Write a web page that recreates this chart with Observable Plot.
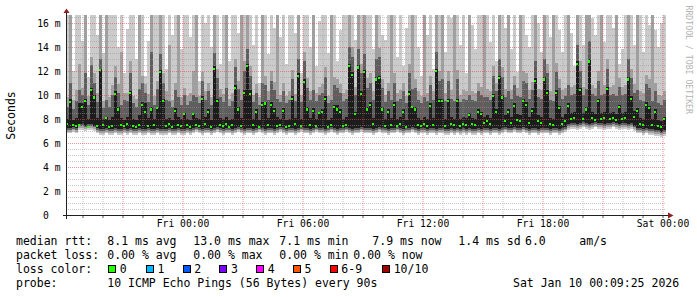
<!DOCTYPE html>
<html><head><meta charset="utf-8">
<script src="https://cdn.jsdelivr.net/npm/d3@7"></script>
<script src="https://cdn.jsdelivr.net/npm/@observablehq/plot@0.6"></script>
<style>
html,body{margin:0;padding:0;background:#fff;}
#wrap{position:relative;width:697px;height:297px;overflow:hidden;font-family:"DejaVu Sans Mono",monospace;background:#fff;}
#wrap svg{position:absolute;left:0;top:0;}
.lg{position:absolute;font-size:11.5px;line-height:14px;white-space:pre;color:#000;}
.sq{position:absolute;width:8px;height:8px;box-sizing:border-box;border:1px solid #000;}
</style></head><body><div id="wrap"></div>
<script>
// ---- data (ms), one entry per time column ----
const medianRtt = [
7.6,9.4,7.5,7.4,7.5,9.0,9.5,7.3,10.4,9.8,7.4,12.1,7.5,8.1,7.3,7.4,10.1,8.8,7.5,7.4,
7.6,10.2,7.4,7.3,7.5,9.2,8.6,7.4,8.8,7.5,8.9,11.9,9.5,7.4,7.6,7.3,8.7,7.5,7.4,8.4,
7.5,7.3,8.4,7.5,7.4,9.7,7.6,8.6,7.3,12.2,9.5,7.5,7.4,7.6,7.3,7.5,10.6,8.8,7.4,10.2,
12.4,10.1,7.5,8.6,7.3,9.2,9.3,7.5,9.2,8.7,7.4,7.5,8.7,7.3,7.4,9.7,7.6,11.6,7.4,11.1,
8.8,7.5,8.7,7.4,8.5,8.6,9.7,7.3,7.5,9.0,8.8,8.6,7.4,7.5,12.4,11.7,8.4,12.3,10.1,11.9,
8.8,9.2,7.6,11.3,11.4,8.8,7.4,8.6,7.5,9.2,7.4,7.6,8.6,7.3,10.1,9.0,8.8,7.5,7.4,7.6,
7.4,9.1,7.5,12.0,9.5,9.5,7.4,9.5,7.6,7.5,9.5,7.4,7.6,7.5,8.3,7.6,7.5,8.6,8.4,7.7,
7.8,7.6,9.9,8.6,11.4,9.8,7.8,8.6,7.7,9.1,7.9,7.8,9.5,9.2,7.7,8.7,11.2,7.8,7.7,11.3,
10.2,7.6,7.5,10.2,8.9,7.6,7.8,9.1,8.0,8.1,12.6,10.4,8.0,8.8,12.8,8.1,7.9,9.5,8.0,8.1,
10.5,8.0,8.1,7.9,9.0,8.0,8.1,11.3,9.7,8.2,8.7,7.6,7.5,9.2,8.9,7.5,8.6,7.4,7.3,8.0];
const smokeLow = [
6.8,6.8,6.9,6.8,7.1,7.1,7.0,7.1,7.1,7.0,6.8,6.7,6.7,6.8,6.7,6.7,6.8,6.7,6.7,6.8,
6.7,6.8,6.7,6.7,6.8,6.7,6.7,6.8,6.7,6.7,6.8,6.7,6.7,6.7,6.8,6.7,6.7,6.8,6.7,6.7,
6.8,6.7,6.8,6.9,6.8,6.7,6.8,6.8,6.7,6.8,6.9,6.8,6.7,6.8,6.8,6.7,6.8,6.9,6.8,6.7,
6.8,6.8,6.7,6.8,6.9,6.8,6.7,6.8,6.8,6.7,6.8,6.9,6.8,6.7,6.8,6.8,6.7,6.8,6.9,6.8,
6.8,6.7,6.8,6.9,6.8,6.8,6.7,6.8,6.9,6.8,6.7,6.8,6.8,6.9,6.8,6.7,6.8,6.8,6.9,6.8,
6.8,6.8,6.7,6.8,6.9,6.8,6.8,6.7,6.8,6.8,6.9,6.8,6.7,6.8,6.8,6.9,6.8,6.7,6.8,6.8,
6.7,6.8,6.8,6.7,6.8,6.8,6.7,6.7,6.8,6.7,6.8,6.7,6.8,6.7,6.8,6.7,6.7,6.8,6.7,6.8,
6.8,6.7,6.8,6.8,6.7,6.8,6.9,6.8,6.8,6.9,6.8,6.8,6.9,6.8,6.7,6.8,6.8,6.7,6.8,6.8,
6.8,6.7,6.8,6.8,6.7,6.8,6.9,7.1,7.2,7.2,7.1,7.2,7.3,7.2,7.1,7.2,7.3,7.2,7.2,7.1,
7.2,7.2,7.3,7.2,7.1,7.2,7.2,7.1,7.2,7.0,6.8,6.8,6.7,6.8,6.7,6.7,6.6,6.6,6.5,6.6];
const smokeBlack = [
8.0,9.7,7.9,8.1,9.3,9.3,9.7,8.0,10.6,10.0,8.1,12.2,8.0,8.2,7.9,8.2,10.3,9.0,8.1,7.9,
8.2,10.3,8.0,7.9,8.3,9.4,9.3,8.1,9.0,8.0,9.0,12.1,9.7,8.0,8.1,7.9,8.9,8.2,8.0,8.5,
8.0,7.9,8.5,8.1,8.0,9.9,8.2,8.8,7.9,12.4,9.7,8.1,8.0,8.2,7.9,8.0,10.8,9.0,8.1,10.4,
12.6,10.4,8.0,8.8,7.9,9.4,9.4,8.1,9.4,8.9,8.2,8.0,8.9,7.9,8.0,9.9,8.1,11.8,8.0,11.3,
9.0,8.1,8.9,8.0,8.6,8.8,9.9,7.9,8.1,9.2,9.2,8.8,8.0,8.2,12.6,11.9,8.6,12.5,10.3,12.1,
9.0,9.4,8.1,11.5,11.6,9.0,8.0,8.8,8.1,9.4,8.0,8.2,8.8,7.9,10.3,9.0,9.0,8.1,7.9,8.2,
8.0,9.3,8.1,12.2,9.7,9.7,8.0,9.7,8.2,8.0,9.7,8.0,8.2,8.1,8.5,8.1,8.0,8.8,8.6,8.2,
8.3,8.1,10.1,8.8,11.6,10.0,8.3,8.8,8.2,9.3,8.4,8.3,9.7,9.4,8.2,8.9,11.4,8.3,8.2,11.5,
10.4,8.1,8.0,10.4,9.1,8.2,8.4,9.3,8.5,8.6,12.8,10.6,8.5,9.0,13.0,8.6,8.4,9.7,8.5,8.6,
10.7,8.5,8.6,8.4,9.2,8.5,8.6,11.5,9.9,8.7,8.9,8.1,8.0,9.4,9.1,8.0,8.8,7.9,7.8,8.2];
const smokeDark = [
9.0,11.0,8.8,9.5,10.4,10.0,11.8,9.2,12.5,11.0,9.4,13.0,8.9,9.6,9.0,10.0,11.5,10.2,9.2,9.6,
9.5,11.8,9.3,9.0,10.5,11.0,10.2,9.4,13.6,9.2,10.5,13.4,11.0,9.6,9.5,9.0,10.4,9.8,9.2,10.0,
9.2,9.5,10.0,9.8,9.3,11.2,9.6,10.3,9.2,13.5,11.4,9.8,9.4,10.6,9.1,9.5,12.3,10.5,9.6,12.0,
13.8,11.6,9.4,10.2,9.2,11.0,10.8,9.6,11.2,10.4,9.7,9.4,10.3,9.3,9.6,11.3,9.5,13.0,9.4,12.8,
10.6,9.6,10.4,9.5,10.0,10.2,11.5,9.3,9.6,10.8,10.6,10.2,9.5,9.7,14.0,13.2,10.0,13.8,11.8,13.4,
10.6,11.0,9.6,13.0,13.2,10.6,9.4,10.3,9.6,11.0,9.5,9.7,10.3,9.3,11.8,10.5,10.6,9.6,9.3,9.8,
9.5,10.8,9.6,13.6,11.2,11.3,9.5,11.2,9.7,9.5,11.3,9.4,9.7,9.6,10.0,9.6,9.5,10.3,10.0,9.8,
9.8,9.6,11.6,10.3,13.0,11.5,9.8,10.3,9.7,10.8,9.9,9.8,11.2,11.0,9.7,10.4,12.8,9.8,9.7,13.0,
11.8,9.6,9.5,11.9,10.6,9.7,9.9,10.8,10.0,10.1,14.2,12.0,10.0,10.5,14.5,10.1,9.9,11.2,10.0,10.1,
12.2,10.0,10.1,9.9,10.7,10.0,10.1,13.0,11.4,10.2,10.4,9.6,9.5,10.9,10.6,9.5,10.3,9.3,9.2,9.6];
const smokeMid = [
9.8,17,9.6,10.4,12.6,10.6,17,9.9,13.2,11.8,10.2,17,9.5,17,9.8,10.8,12.4,10.9,13.6,10.2,
10.2,12.8,9.9,9.7,17,11.6,10.9,10.1,17,9.9,11.2,17,11.8,10.3,14.2,9.6,11.0,17,9.8,10.6,
9.9,10.2,12.0,17,9.9,11.9,10.3,11.0,9.8,17,12.2,10.5,10.1,17,9.7,10.2,13.0,11.2,17,12.8,
17,12.4,10.0,10.9,9.8,17,11.6,10.3,12.0,11.1,17,10.0,11.0,9.9,10.3,12.1,10.1,17,10.0,13.6,
11.4,10.3,17,10.2,10.7,10.9,12.3,9.9,17,11.5,11.3,10.9,10.2,10.4,17,14.0,10.7,17,12.6,17,
11.4,11.8,10.3,17,13.9,11.3,10.0,11.0,17,11.8,10.2,10.4,11.0,9.9,12.6,17,11.3,10.3,9.9,17,
10.2,11.6,10.3,17,12.0,17,10.2,12.0,10.4,17,12.1,10.0,10.4,10.3,17,10.3,10.2,11.0,10.7,17,
10.5,10.3,12.4,11.0,17,12.3,10.5,17,10.4,11.6,10.6,17,12.0,11.8,10.4,11.1,17,10.5,10.4,17,
12.6,10.3,17,12.7,11.3,10.4,10.6,17,10.7,10.8,17,12.8,10.7,17,17,10.8,10.6,12.0,17,10.8,
13.0,10.7,10.8,17,11.4,10.7,10.8,17,12.2,10.9,17,10.3,10.2,11.7,11.3,17,11.0,10.0,9.9,10.3];
const smokeMax = [
17,17,12.0,17,17,14.5,17,11.5,17,17,15.0,17,13.5,17,17,17,17,14.0,17,11.8,
15.5,17,17,13.0,17,17,11.6,14.5,17,17,17,17,17,12.2,17,15.0,17,17,13.8,17,
17,14.8,17,17,11.2,17,16.0,17,14.0,17,17,12.6,17,17,12.8,17,17,15.2,17,17,
17,17,14.2,17,11.0,17,17,13.4,17,15.6,17,14.8,17,12.6,17,17,15.2,17,11.8,17,
17,14.0,17,12.4,16.2,17,17,13.5,17,17,12.8,15.4,17,17,17,17,14.6,17,17,17,
17,17,13.8,17,17,15.0,14.6,17,17,17,13.2,17,12.4,15.6,17,17,17,14.0,11.6,17,
15.0,17,12.2,17,17,17,13.6,17,16.4,17,17,14.2,17,11.8,17,15.8,13.8,17,17,17,
17,14.4,17,12.8,17,17,15.6,17,13.8,17,11.9,17,17,15.0,14.0,17,17,16.0,13.6,17,
17,14.8,17,17,15.4,13.6,17,17,15.2,12.4,17,17,14.2,17,17,16.4,15.0,17,17,14.4,
17,17,15.6,17,12.6,13.8,17,17,17,14.2,17,17,13.6,17,15.8,17,15.4,14.0,16.0,17];

const timeSpan = ["2026-01-08T18:10:30Z", "2026-01-10T00:10:30Z"];
const xTickTimes = ["2026-01-09T00:00:00Z","2026-01-09T06:00:00Z","2026-01-09T12:00:00Z","2026-01-09T18:00:00Z","2026-01-10T00:00:00Z"];
const yTicks = [0,2,4,6,8,10,12,14,16];
const yMax = 16.67;
const yLabel = "Seconds";
const watermark = "RRDTOOL / TOBI OETIKER";

const rttStats = ["median rtt:", "8.1 ms avg", "13.0 ms max", "7.1 ms min", "7.9 ms now", "1.4 ms sd", "6.0", "am/s"];
const lossStats = ["packet loss:", "0.00 % avg", "0.00 % max", "0.00 % min", "0.00 % now"];
const lossLabels = ["0","1","2","3","4","5","6-9","10/10"];
const lossColors = ["#26ff00","#00b8ff","#0059ff","#7e00ff","#ff00ff","#ff5500","#ff0000","#a10000"];
const probeText = ["probe:", "10 ICMP Echo Pings (56 Bytes) every 90s", "Sat Jan 10 00:09:25 2026"];

// ---- build ----
const [t0, t1] = timeSpan.map(s => new Date(s));
const n = medianRtt.length;
const step = (t1 - t0) / n;
const rows = medianRtt.map((m, i) => ({
  a: new Date(+t0 + i * step), b: new Date(+t0 + (i + 1) * step), g: new Date(+t0 + (i + 2/3) * step),
  med: m, lo: smokeLow[i], blk: smokeBlack[i], dg: smokeDark[i],
  mg: Math.min(smokeMid[i], yMax), mx: Math.min(smokeMax[i], yMax)
}));
const hours = d3.utcHour.range(t0, t1);
const hourMinor = hours.filter(d => d.getUTCHours() % 3 !== 0);
const hourMajor = hours.filter(d => d.getUTCHours() % 3 === 0);
const yMinor = d3.range(0.5, yMax, 0.5).filter(v => v % 2 !== 0);
const yMajor = yTicks.filter(v => v > 0);
const crisp = {x1: "a", x2: "b", shapeRendering: "crispEdges", clip: true};

const chart = Plot.plot({
  width: 697, height: 232,
  marginLeft: 66, marginRight: 31, marginTop: 15, marginBottom: 17,
  x: {type: "utc", domain: [t0, t1]},
  y: {domain: [0, yMax]},
  style: {fontFamily: "'DejaVu Sans Mono', monospace", fontSize: "9.7px", background: "#fff", color: "#000", overflow: "visible"},
  marks: [
    Plot.rect(rows, {...crisp, y1: "lo", y2: "mx", fill: "#cbcbcb"}),
    Plot.rect(rows, {...crisp, y1: d => d.lo + 0.15, y2: "mg", fill: "#a0a0a0"}),
    Plot.rect(rows, {...crisp, y1: d => d.lo + 0.3, y2: "dg", fill: "#5e5e5e"}),
    Plot.rect(rows, {...crisp, y1: d => d.lo + 0.45, y2: "blk", fill: "#1c1c1c"}),
    Plot.ruleY(yMinor, {stroke: "#999", strokeOpacity: 0.55, strokeDasharray: "1,1"}),
    Plot.ruleX(hourMinor, {stroke: "#999", strokeOpacity: 0.55, strokeDasharray: "1,1"}),
    Plot.ruleY(yMajor, {stroke: "#de4f4f", strokeOpacity: 0.6, strokeDasharray: "1,1"}),
    Plot.ruleX(hourMajor, {stroke: "#de4f4f", strokeOpacity: 0.6, strokeDasharray: "1,1"}),
    Plot.rect(rows, {x1: "a", x2: "g", y1: d => d.med - 0.09, y2: d => d.med + 0.09, fill: "#26ff00", shapeRendering: "crispEdges"}),
    Plot.ruleX(hours, {y1: 0, y2: -0.25, stroke: "#555"}),
    Plot.axisY({ticks: yTicks, tickSize: 0, tickPadding: 6, label: null,
      tickFormat: d => d === 0 ? "0\u00a0\u00a0" : `${d} m`}),
    Plot.axisX({ticks: xTickTimes.map(s => new Date(s)), tickSize: 0, tickPadding: 5, label: null,
      tickFormat: d3.utcFormat("%a %H:%M")}),
    Plot.text([yLabel], {text: d => d, frameAnchor: "left", dx: -55, rotate: -90,
      textAnchor: "middle", lineAnchor: "middle", fontSize: 11.5}),
    Plot.text([watermark], {text: d => d, frameAnchor: "top-right", dx: 22, dy: -10, rotate: 90,
      textAnchor: "start", lineAnchor: "middle", fontSize: 8.2, fill: "#b4b4b4"})
  ]
});

const wrap = document.getElementById("wrap");
wrap.appendChild(chart);

// axis lines + arrows positioned through the plot's scales
const X = chart.scale("x"), Y = chart.scale("y");
const xa = X.apply(t0), xb = X.apply(t1), ya = Y.apply(0), yt = Y.apply(yMax);
const g = d3.select(chart).append("g");
g.append("line").attr("x1", xa - 3).attr("x2", xb + 3).attr("y1", ya + 0.5).attr("y2", ya + 0.5).attr("stroke", "#202020");
g.append("line").attr("x1", xa + 0.5).attr("x2", xa + 0.5).attr("y1", ya + 4).attr("y2", yt - 2).attr("stroke", "#202020");
g.append("path").attr("d", `M${xb + 2},${ya - 2.5}L${xb + 7.5},${ya + 0.5}L${xb + 2},${ya + 3.5}Z`).attr("fill", "#8c2020");
g.append("path").attr("d", `M${xa - 2.5},${yt - 2}L${xa + 0.5},${yt - 6.5}L${xa + 3.5},${yt - 2}Z`).attr("fill", "#8c2020");

// ---- legend text below the SVG ----
function addText(str, x, cy) {
  const s = document.createElement("span");
  s.className = "lg"; s.textContent = str;
  s.style.left = x + "px"; s.style.top = (cy - 7) + "px";
  wrap.appendChild(s);
}
const rttX = [16, 107.3, 193.3, 279.3, 372.3, 458.3, 525, 579.3];
rttStats.forEach((t, i) => addText(t, rttX[i], 240.7));
const lossX = [16, 107.3, 193.3, 279.3, 353.3];
lossStats.forEach((t, i) => addText(t, lossX[i], 255));
addText("loss color:", 16, 269);
const sqX = [108, 145.7, 182.5, 219.3, 256, 292.8, 329.6, 382];
lossLabels.forEach((lab, i) => {
  const q = document.createElement("div");
  q.className = "sq"; q.style.left = Math.round(sqX[i]) + "px"; q.style.top = "265px";
  q.style.background = lossColors[i];
  wrap.appendChild(q);
  addText(lab, sqX[i] + 11.7, 269);
});
const probeX = [16, 107.3, 513];
probeText.forEach((t, i) => addText(t, probeX[i], 283.3));
</script></body></html>
